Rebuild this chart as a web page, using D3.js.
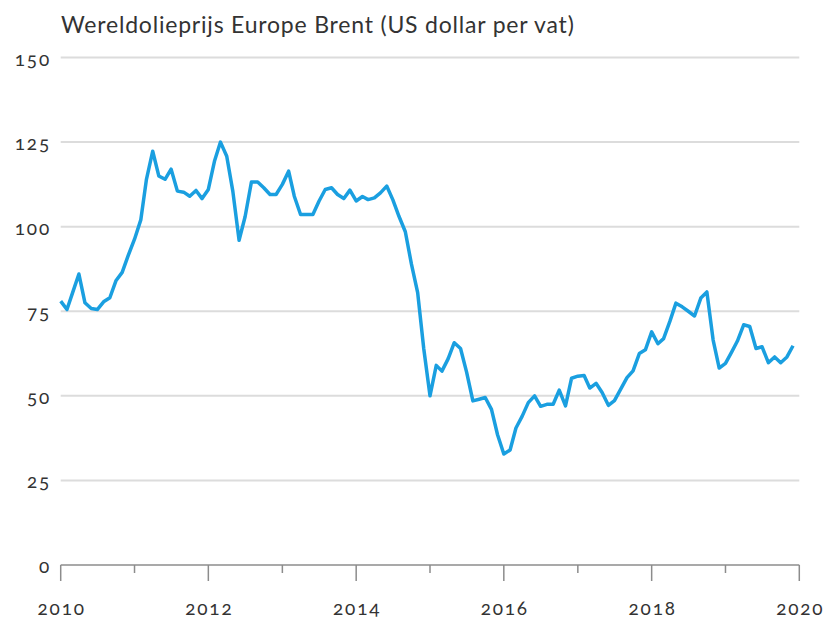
<!DOCTYPE html>
<meta charset="utf-8">
<head>
  <title>Wereldolieprijs Europe Brent</title>
</head>

<style>
body {
  margin: 0;
  font-family: Lato, "Open Sans", sans-serif;
  color: #333;
  background: #fff;
}
.title {
  font-size: 23px;
  letter-spacing: 0.8px;
  fill: #333;
}
.tick-label {
  font-size: 19px;
  letter-spacing: 1.8px;
  fill: #333;
  font-variant-numeric: oldstyle-nums;
}
</style>

<body>
<script src="https://d3js.org/d3.v7.min.js"></script>

<script>

// Monthly Brent price, Jan 2010 - Dec 2019
var start = "2010-01";
var prices2010 = [78, 75.5, 80.5, 86, 77.5, 75.8, 75.5, 77.8, 79, 84, 86.5, 91.5];
var prices2011 = [96.3, 102, 114, 122.3, 115, 114, 117, 110.5, 110.2, 109, 110.7, 108.3];
var prices2012 = [111, 119.5, 125, 120.8, 110.5, 96, 103, 113.2, 113.2, 111.5, 109.5, 109.5];
var prices2013 = [112.5, 116.4, 109, 103.6, 103.6, 103.6, 107.5, 111, 111.5, 109.5, 108.3, 110.8];
var prices2014 = [107.6, 108.9, 108, 108.5, 110, 112, 108, 103, 98.5, 89, 80.5, 64];
var prices2015 = [50, 59, 57.3, 61, 65.7, 64, 57, 48.5, 49, 49.5, 46, 38.5];
var prices2016 = [32.8, 34, 40.5, 44, 48, 50, 46.9, 47.5, 47.5, 51.7, 47, 55.2];
var prices2017 = [55.8, 56, 52.3, 53.7, 51, 47.2, 48.6, 52, 55.4, 57.4, 62.5, 63.6];
var prices2018 = [68.9, 65.4, 66.9, 72, 77.4, 76.3, 75, 73.6, 78.9, 80.7, 66.5, 58.2];
var prices2019 = [59.6, 63, 66.2, 71, 70.5, 64, 64.5, 59.8, 61.5, 59.8, 61.5, 64.8];

var yTicks = [0, 25, 50, 75, 100, 125, 150];
var yearTicks = [2010, 2011, 2012, 2013, 2014, 2015, 2016, 2017, 2018, 2019, 2020];
var titleText = "Wereldolieprijs Europe Brent (US dollar per vat)";

var w = 831, h = 621;

var prices = [].concat(prices2010, prices2011, prices2012, prices2013, prices2014,
  prices2015, prices2016, prices2017, prices2018, prices2019);

var parseMonth = d3.timeParse("%Y-%m");
var data = prices.map(function(v, i) {
  return {date: d3.timeMonth.offset(parseMonth(start), i), value: v};
});

var svg = d3.select("body")
  .append("svg")
  .attr("width", w)
  .attr("height", h);

var x = d3.scaleTime()
  .domain([new Date(2010, 0, 1), new Date(2020, 0, 1)])
  .range([60.7, 799.3]);

var y = d3.scaleLinear()
  .domain([0, 150])
  .range([565, 57.5]);

svg.append("text")
  .attr("class", "title")
  .attr("x", 61)
  .attr("y", 33)
  .text(titleText);

// gridlines
svg.selectAll(".grid")
  .data(yTicks.filter(function(d) { return d > 0; }))
  .enter()
  .append("line")
  .attr("class", "grid")
  .attr("x1", x.range()[0])
  .attr("x2", x.range()[1])
  .attr("y1", function(d) { return y(d); })
  .attr("y2", function(d) { return y(d); })
  .attr("stroke", "#dcdcdc")
  .attr("stroke-width", 2);

// y labels
svg.selectAll(".ylab")
  .data(yTicks)
  .enter()
  .append("text")
  .attr("class", "tick-label")
  .attr("x", 51)
  .attr("y", function(d) { return y(d) + 8; })
  .attr("text-anchor", "end")
  .text(function(d) { return d; });

// x axis
var xAxis = svg.append("g");
xAxis.append("line")
  .attr("x1", x.range()[0])
  .attr("x2", x.range()[1])
  .attr("y1", y(0))
  .attr("y2", y(0))
  .attr("stroke", "#8c8c8c")
  .attr("stroke-width", 1.5);

xAxis.selectAll(".xtick")
  .data(yearTicks)
  .enter()
  .append("line")
  .attr("x1", function(d) { return x(new Date(d, 0, 1)); })
  .attr("x2", function(d) { return x(new Date(d, 0, 1)); })
  .attr("y1", y(0))
  .attr("y2", function(d) { return y(0) + (d % 2 === 0 ? 16 : 8); })
  .attr("stroke", "#8c8c8c")
  .attr("stroke-width", 1.5);

xAxis.selectAll(".xlab")
  .data(yearTicks.filter(function(d) { return d % 2 === 0; }))
  .enter()
  .append("text")
  .attr("class", "tick-label")
  .attr("x", function(d) { return x(new Date(d, 0, 1)) + 1; })
  .attr("y", 615)
  .attr("text-anchor", "middle")
  .text(function(d) { return d; });

var line = d3.line()
  .x(function(d) { return x(d.date); })
  .y(function(d) { return y(d.value); });

svg.append("path")
  .datum(data)
  .attr("d", line)
  .attr("fill", "none")
  .attr("stroke", "#1a9fe0")
  .attr("stroke-width", 3.5)
  .attr("stroke-linejoin", "round");

</script>
</body>
</html>
